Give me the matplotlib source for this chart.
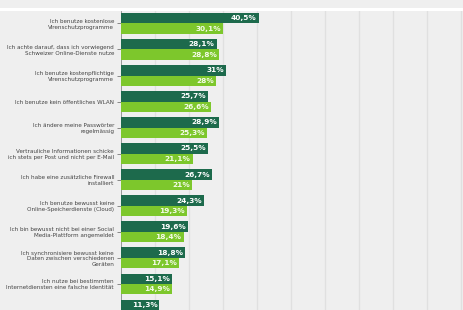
import numpy as np
import matplotlib
matplotlib.use("Agg")
import matplotlib.pyplot as plt
from matplotlib.patches import Rectangle

# data (last group is cut off at the bottom)
labels = [
    "Ich benutze kostenlose\nVirenschutzprogramme",
    "Ich achte darauf, dass ich vorwiegend\nSchweizer Online-Dienste nutze",
    "Ich benutze kostenpflichtige\nVirenschutzprogramme",
    "Ich benutze kein öffentliches WLAN",
    "Ich ändere meine Passwörter\nregelmässig",
    "Vertrauliche Informationen schicke\nich stets per Post und nicht per E-Mail",
    "Ich habe eine zusätzliche Firewall\ninstalliert",
    "Ich benutze bewusst keine\nOnline-Speicherdienste (Cloud)",
    "Ich bin bewusst nicht bei einer Social\nMedia-Plattform angemeldet",
    "Ich synchronisiere bewusst keine\nDaten zwischen verschiedenen\nGeräten",
    "Ich nutze bei bestimmten\nInternetdiensten eine falsche Identität",
    "",
]
dark_vals = [40.5, 28.1, 31, 25.7, 28.9, 25.5, 26.7, 24.3, 19.6, 18.8, 15.1, 11.3]
light_vals = [30.1, 28.8, 28, 26.6, 25.3, 21.1, 21, 19.3, 18.4, 17.1, 14.9, 10.0]

dark = "#1d6a4c"
light = "#7dc72c"
bg = "#efefef"

W, H = 463, 310
fig = plt.figure(figsize=(W / 100, H / 100), dpi=100, facecolor=bg)
# thin white band near the top
fig.patches.append(Rectangle((0, 1 - 11 / H), 1, 3 / H, transform=fig.transFigure,
                             facecolor="white", edgecolor="none"))

ax = fig.add_axes([121 / W, 0, (W - 121) / W, (H - 11) / H])
ax.set_facecolor(bg)

y = np.arange(len(labels))
h = 0.4
ax.barh(y - h / 2, dark_vals, height=h, color=dark, zorder=3)
ax.barh(y + h / 2, light_vals, height=h, color=light, zorder=3)


def fmt(v):
    s = f"{v:.1f}".rstrip("0").rstrip(".")
    return s.replace(".", ",") + "%"


for i in range(len(labels)):
    ax.text(dark_vals[i] - 0.6, i - h / 2, fmt(dark_vals[i]), ha="right", va="center",
            color="white", fontsize=5.3, fontweight="bold", zorder=4)
    ax.text(light_vals[i] - 0.6, i + h / 2, fmt(light_vals[i]), ha="right", va="center",
            color="#f4fbe8", fontsize=5.3, fontweight="bold", zorder=4)

ax.set_xlim(0, 100.6)
ax.set_ylim(10.68, -0.476)
ax.set_xticks(np.arange(10, 101, 10))
ax.tick_params(axis="x", length=0, labelbottom=False)
ax.grid(axis="x", color="#e0e0e0", linewidth=1.0, zorder=0)

ax.set_yticks(y)
ax.set_yticklabels(labels, fontsize=4.1, color="#444444", linespacing=1.15)
ax.tick_params(axis="y", length=3, width=0.6, color="#777777", pad=2)

for s in ["top", "right", "bottom"]:
    ax.spines[s].set_visible(False)
ax.spines["left"].set_color("#888888")
ax.spines["left"].set_linewidth(0.6)

fig.savefig("out.png", dpi=100, facecolor=bg)
